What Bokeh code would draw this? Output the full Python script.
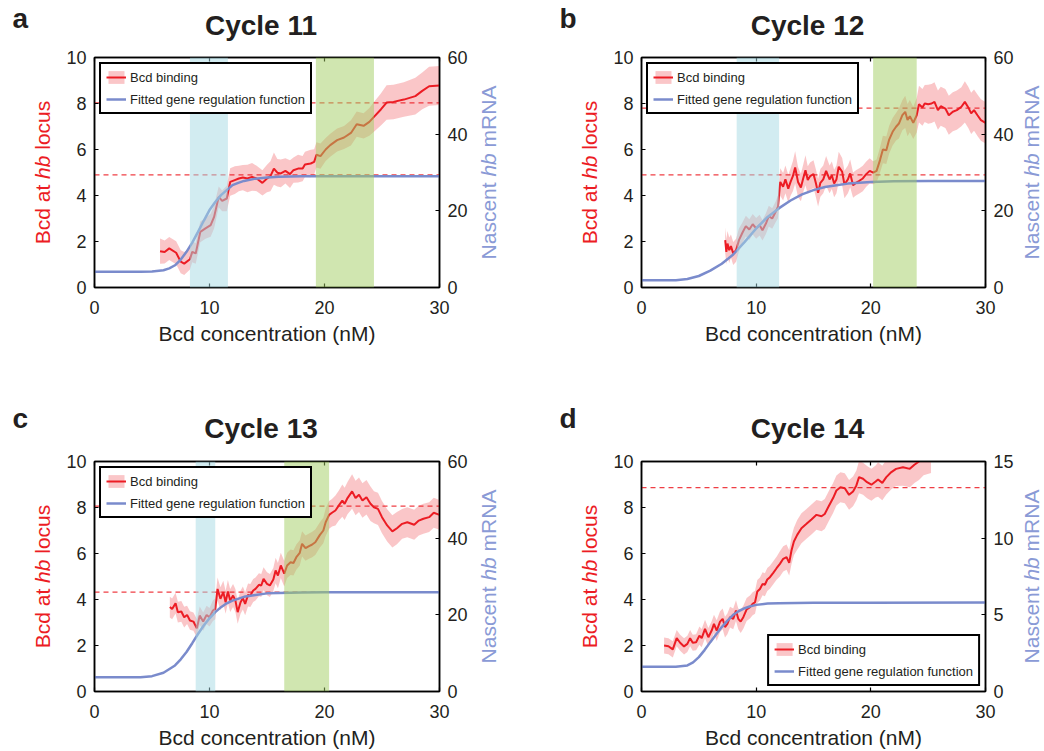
from bokeh.plotting import figure
from bokeh.models import (LinearAxis, Range1d, Span, BoxAnnotation, Legend, LegendItem,
                          FixedTicker, ColumnDataSource)
from bokeh.layouts import row, column
from bokeh.core.properties import value
from bokeh.embed import file_html
from bokeh.resources import INLINE
import math

# ---------------- data ----------------
# Panel a (Cycle 11)
xa = [5.7, 6.1, 6.5, 7.1, 7.5, 7.8, 8.3, 8.5, 8.8, 9.2, 9.65, 10.1, 10.4, 10.8, 11.1, 11.5, 11.8, 12.2, 12.55, 12.9,
      13.3, 13.7, 14.1, 14.6, 15.0, 15.3, 15.6, 15.9, 16.2, 16.6, 17.0, 17.3, 17.7, 18.1, 18.3, 18.8, 19.1, 19.3, 19.65, 20.1,
      20.5, 21.1, 21.7, 22.3, 22.8, 23.4, 23.9, 24.3, 24.9, 25.4, 26.0, 26.9, 27.9, 28.5, 29.1, 30.0]
ya = [1.58, 1.54, 1.70, 1.51, 1.12, 1.04, 1.23, 1.55, 1.48, 2.42, 2.57, 2.71, 3.07, 3.94, 3.77, 3.87, 4.59, 4.67, 4.74, 4.78,
      4.74, 4.81, 4.74, 4.55, 4.74, 4.84, 5.17, 4.99, 4.96, 5.07, 4.93, 5.10, 5.17, 5.17, 5.35, 5.39, 5.46, 5.77, 5.71, 6.00,
      6.19, 6.41, 6.52, 6.72, 7.10, 7.03, 7.20, 7.42, 7.74, 8.04, 8.07, 8.17, 8.32, 8.55, 8.75, 8.78]
ea = [0.55, 0.5, 0.5, 0.5, 0.5, 0.5, 0.45, 0.45, 0.45, 0.45, 0.45, 0.5, 0.5, 0.45, 0.45, 0.55,
      0.6, 0.6, 0.55, 0.55, 0.6, 0.6, 0.55, 0.55, 0.6, 0.65, 0.7, 0.6, 0.6, 0.55, 0.6, 0.55, 0.6, 0.55, 0.55, 0.6, 0.55,
      0.55, 0.55, 0.5, 0.5, 0.5, 0.5, 0.55, 0.55, 0.55, 0.6, 0.65, 0.7,
      0.75, 0.75, 0.75, 0.8, 0.8, 0.85, 0.85]
fxa = [0, 1, 2, 3, 4, 5, 6, 6.5, 7, 7.5, 8, 8.5, 9, 9.5, 10, 10.5, 11, 11.5, 12, 12.5, 13, 14, 15, 16, 18, 20, 25, 30]
fya = [4.1, 4.1, 4.1, 4.1, 4.1, 4.2, 4.5, 5.0, 5.8, 7.3, 9.3, 11.7, 14.5, 17.4, 20.2, 22.3, 24.1, 25.4, 26.7, 27.3,
       27.8, 28.4, 28.7, 28.9, 29.0, 29.0, 29.0, 29.0]
thr_a = [4.9, 8.03]
cyan_a = [8.3, 11.6]
green_a = [19.25, 24.3]

# Panel b (Cycle 12)
xb = [7.3, 7.4, 7.5, 7.65, 7.8, 8.0, 8.25, 8.5, 8.8, 9.1, 9.4, 9.7, 10.0, 10.3, 10.55, 10.85, 11.1, 11.4, 11.7, 11.9,
      12.1, 12.35, 12.55, 12.8, 13.0, 13.2, 13.4, 13.65, 13.9, 14.1, 14.3, 14.5, 14.7, 15.0, 15.2, 15.4, 15.6, 15.85, 16.1, 16.4,
      16.6, 16.8, 17.0, 17.2, 17.5, 17.7, 18.0, 18.2, 18.45, 18.7, 19.0, 19.3, 19.6, 19.9, 20.2, 20.5, 20.8, 21.05, 21.35, 21.6,
      21.9, 22.2, 22.45, 22.75, 23.0, 23.2, 23.4, 23.7, 24.0, 24.2, 24.5, 24.7, 25.0, 25.3, 25.55, 25.85, 26.1, 26.5, 26.8, 27.15,
      27.5, 27.9, 28.2, 28.5, 28.75, 29.0, 29.3, 29.6, 30.0]
yb = [2.06, 1.55, 1.91, 1.62, 1.80, 1.48, 1.62, 2.06, 2.38, 2.67, 2.52, 2.75, 2.57, 2.71, 2.49, 2.78, 3.10, 3.00, 3.29, 3.51,
      4.59, 4.38, 4.70, 4.30, 4.59, 4.84, 5.22, 4.59, 4.35, 4.74, 5.10, 4.67, 4.84, 4.93, 4.55, 4.12, 4.55, 4.70, 5.07, 4.70,
      4.88, 4.52, 4.70, 5.25, 5.03, 4.48, 4.70, 4.96, 4.45, 4.55, 4.64, 4.74, 4.93, 5.07, 4.99, 5.07, 5.54, 6.00, 5.97, 6.43,
      6.77, 6.99, 7.13, 7.49, 7.64, 7.28, 7.45, 7.16, 7.49, 7.97, 7.83, 8.00, 7.97, 8.00, 8.07, 7.71, 7.88, 7.78, 7.49, 7.64,
      7.71, 7.86, 8.07, 7.83, 7.57, 7.71, 7.49, 7.28, 7.16]
eb = [0.55, 0.55, 0.55, 0.55, 0.5, 0.5, 0.5, 0.5, 0.45, 0.45, 0.45, 0.45, 0.45, 0.45, 0.45, 0.45, 0.45, 0.45, 0.45, 0.5,
      0.6, 0.6, 0.6, 0.6, 0.6, 0.65, 0.7, 0.65, 0.6, 0.6, 0.65, 0.6, 0.6, 0.6, 0.6, 0.6, 0.6, 0.6, 0.65, 0.6,
      0.6, 0.6, 0.6, 0.65, 0.6, 0.6, 0.6, 0.6, 0.55, 0.55, 0.55, 0.55, 0.55, 0.55, 0.5, 0.5, 0.55, 0.6, 0.6, 0.6,
      0.6, 0.6, 0.65, 0.65, 0.7, 0.7, 0.7, 0.7, 0.75, 0.8, 0.8, 0.8, 0.85, 0.85, 0.85, 0.85, 0.85, 0.85, 0.85, 0.85,
      0.85, 0.85, 0.9, 0.9, 0.9, 0.9, 0.9, 0.9, 0.9]
fxb = [0, 1, 2, 3, 4, 5, 6, 7, 8, 9, 10, 11, 12, 13, 14, 15, 16, 17, 18, 19, 20, 22, 25, 30]
fyb = [1.9, 1.9, 1.9, 1.9, 2.2, 3.0, 4.4, 6.2, 8.6, 11.9, 15.4, 18.4, 20.7, 22.7, 24.3, 25.4, 26.2, 26.7, 27.1, 27.3,
       27.5, 27.7, 27.8, 27.8]
thr_b = [4.9, 7.8]
cyan_b = [8.3, 12.0]
green_b = [20.2, 24.0]

# Panel c (Cycle 13)
xc = [6.55, 6.75, 7.05, 7.25, 7.55, 7.8, 8.05, 8.3, 8.6, 8.9, 9.15, 9.45, 9.75, 10.0, 10.3, 10.5, 10.7, 10.95, 11.2, 11.4,
      11.6, 11.8, 12.05, 12.25, 12.45, 12.7, 12.9, 13.1, 13.35, 13.55, 13.8, 14.0, 14.3, 14.5, 14.7, 15.0, 15.25, 15.55, 15.75, 15.95,
      16.2, 16.5, 16.75, 17.05, 17.3, 17.55, 17.85, 18.05, 18.35, 18.65, 18.9, 19.2, 19.6, 19.9, 20.1, 20.4, 20.65, 20.95, 21.25, 21.55,
      21.75, 22.0, 22.4, 22.7, 23.0, 23.3, 23.65, 24.0, 24.3, 24.65, 25.0, 25.45, 25.9, 26.3, 26.75, 27.2, 27.8, 28.2, 28.6, 29.1,
      29.5, 30.0]
yc = [3.67, 3.59, 3.84, 3.45, 3.48, 3.23, 3.33, 3.09, 3.04, 2.75, 3.30, 3.04, 3.33, 3.23, 3.52, 3.59, 4.46, 4.03, 4.32, 3.88,
      4.35, 3.96, 4.17, 3.96, 3.45, 3.88, 4.06, 3.81, 4.20, 4.17, 4.39, 4.46, 4.64, 4.61, 4.90, 4.68, 4.61, 4.87, 5.26, 5.04,
      5.48, 5.12, 5.48, 5.62, 5.59, 5.84, 6.03, 6.42, 6.23, 6.32, 6.38, 6.49, 6.81, 7.00, 7.36, 7.68, 7.77, 7.87, 8.09, 8.30,
      8.16, 8.41, 8.70, 8.41, 8.55, 8.30, 8.45, 8.16, 8.01, 7.94, 7.58, 7.22, 6.96, 7.10, 7.29, 7.36, 7.25, 7.43, 7.51, 7.58,
      7.77, 7.68]
ec = [0.45, 0.45, 0.45, 0.45, 0.45, 0.45, 0.4, 0.4, 0.4, 0.4, 0.4, 0.4, 0.4, 0.4, 0.45, 0.45, 0.5, 0.5, 0.5, 0.5,
      0.5, 0.5, 0.5, 0.5, 0.5, 0.5, 0.5, 0.5, 0.5, 0.5, 0.5, 0.5, 0.5, 0.5, 0.5, 0.5, 0.5, 0.5, 0.55, 0.55,
      0.55, 0.55, 0.55, 0.55, 0.55, 0.55, 0.55, 0.55, 0.55, 0.55, 0.55, 0.55, 0.55, 0.55, 0.6, 0.6, 0.6, 0.65, 0.65, 0.7,
      0.7, 0.7, 0.75, 0.75, 0.75, 0.75, 0.75, 0.75, 0.7, 0.7, 0.7, 0.7, 0.7, 0.7, 0.65, 0.65, 0.65, 0.65, 0.65, 0.65,
      0.65, 0.65]
fxc = [0, 1, 2, 3, 4, 5, 6, 7, 7.5, 8, 8.5, 9, 9.5, 10, 10.5, 11, 11.5, 12, 13, 14, 15, 16, 18, 20, 25, 30]
fyc = [3.7, 3.7, 3.7, 3.7, 3.7, 4.0, 4.9, 6.8, 8.4, 10.3, 12.6, 15.0, 17.2, 19.1, 20.7, 22.0, 23.0, 23.7, 24.7, 25.2,
       25.6, 25.7, 25.8, 25.9, 25.9, 25.9]
thr_c = [4.32, 8.06]
cyan_c = [8.8, 10.5]
green_c = [16.5, 20.4]

# Panel d (Cycle 14)
xd = [1.97, 2.35, 2.73, 3.07, 3.37, 3.71, 4.0, 4.24, 4.47, 4.76, 5.05, 5.25, 5.54, 5.83, 6.12, 6.32, 6.56, 6.85, 7.08, 7.28,
      7.49, 7.72, 8.0, 8.24, 8.44, 8.65, 8.88, 9.17, 9.46, 9.69, 9.9, 10.1, 10.33, 10.56, 10.76, 10.97, 11.2, 11.49, 11.78, 12.07,
      12.36, 12.65, 12.88, 13.08, 13.29, 13.58, 13.95, 14.39, 14.82, 15.26, 15.7, 15.98, 16.36, 16.71, 17.0, 17.35, 17.73, 18.1, 18.45, 18.74,
      18.97, 19.32, 19.67, 20.05, 20.42, 20.63, 21.0, 21.35, 21.79, 22.2, 22.8, 23.4, 23.8, 24.2, 24.6, 25.25]
yd = [2.00, 1.97, 1.83, 2.32, 2.12, 1.96, 2.07, 2.32, 2.12, 2.14, 2.43, 2.32, 2.72, 2.36, 2.65, 2.94, 2.65, 3.04, 3.16, 2.80,
      2.94, 3.23, 3.16, 3.52, 3.16, 3.04, 3.23, 3.57, 3.67, 3.81, 3.88, 4.35, 4.46, 4.68, 4.64, 4.87, 4.97, 5.16, 5.36, 5.55,
      5.77, 5.84, 5.59, 6.13, 6.52, 6.81, 7.10, 7.29, 7.48, 7.68, 7.62, 7.72, 8.09, 8.41, 8.74, 8.88, 8.84, 8.55, 8.70, 8.96,
      9.32, 9.25, 9.10, 8.99, 9.13, 9.22, 9.07, 9.32, 9.54, 9.68, 9.75, 9.68, 9.86, 10.0, 10.25, 10.45]
ed = [0.35, 0.35, 0.35, 0.35, 0.35, 0.35, 0.35, 0.35, 0.35, 0.35, 0.4, 0.4, 0.4, 0.4, 0.4, 0.4, 0.45, 0.45, 0.45, 0.45,
      0.45, 0.45, 0.45, 0.45, 0.45, 0.5, 0.5, 0.5, 0.5, 0.5, 0.5, 0.5, 0.5, 0.5, 0.5, 0.5, 0.5, 0.5, 0.5, 0.55,
      0.55, 0.55, 0.55, 0.6, 0.6, 0.65, 0.65, 0.65, 0.65, 0.65, 0.65, 0.65, 0.65, 0.65, 0.65, 0.65, 0.65, 0.65, 0.65, 0.65,
      0.7, 0.7, 0.7, 0.7, 0.7, 0.75, 0.75, 0.75, 0.75, 0.75, 0.8, 0.8, 0.8, 0.8, 0.85, 0.95]
fxd = [0, 1, 2, 3, 4, 4.5, 5, 5.5, 6, 6.5, 7, 7.5, 8, 8.5, 9, 9.5, 10, 11, 12, 15, 20, 30]
fyd = [1.61, 1.61, 1.61, 1.61, 1.70, 1.90, 2.24, 2.70, 3.22, 3.72, 4.20, 4.62, 5.00, 5.25, 5.43, 5.56, 5.65, 5.74,
       5.76, 5.78, 5.79, 5.80]
thr_d = [8.86]

x_ticks = [0, 10, 20, 30]
left_ticks = [0, 2, 4, 6, 8, 10]
right_ticks_abc = [0, 20, 40, 60]
right_ticks_d = [0, 5, 10, 15]

# ---------------- style ----------------
FONT = "Liberation Sans"
RED = "#ec1c24"
BLUE = "#7a8bcc"
BLUE_TXT = "#8a9ad6"
CYAN = "#a5d9e3"
GREEN = "#a1cd61"
INK = "#231f20"
FS = 21           # axis-title font size (px)
MID = 0.3465      # middle of the text line above the baseline, in em (Liberation Sans)

# Liberation Sans (Arial metrics) advance widths per 1000 em, to place mixed-style title pieces
W = {"B": 667, "c": 500, "d": 556, " ": 278, "a": 556, "t": 278, "h": 556, "b": 556, "l": 222, "o": 556,
     "u": 556, "s": 500, "N": 722, "e": 556, "n": 556, "m": 833, "R": 722, "A": 667}


def tw(s, size=FS):
    return sum(W[ch] for ch in s) * size / 1000.0


def style_axis(ax, ticks, standoff):
    ax.ticker = FixedTicker(ticks=ticks)
    ax.axis_line_color = "black"
    ax.axis_line_width = 1.5
    ax.major_tick_in = 4
    ax.major_tick_out = 0
    ax.major_tick_line_color = "black"
    ax.major_tick_line_width = 1.2
    ax.minor_tick_line_color = None
    ax.major_label_text_font = FONT
    ax.major_label_text_font_size = "18px"
    ax.major_label_text_color = INK
    ax.major_label_standoff = standoff


def text_strip(w, h, items, bt=0, bb=0):
    """A blank figure used only to hold text. Its frame spans the full width and the rows
    between bt and h-bb (the same borders as the neighbouring plot, so the frames line up).
    items = (x, y_from_figure_top, text, size, style, color, align, angle); anchors are line middles."""
    fh = h - bt - bb
    s = figure(width=w, height=h, x_range=Range1d(0, w), y_range=Range1d(0, fh),
               min_border_left=0, min_border_right=0, min_border_top=bt, min_border_bottom=bb,
               output_backend="svg", toolbar_location=None, x_axis_location=None, y_axis_location=None)
    s.outline_line_color = None
    s.grid.visible = False
    s.background_fill_color = "white"
    s.border_fill_color = "white"
    for (x, y, t, size, style, color, align, angle) in items:
        s.text(x=[x], y=[h - bb - y], text=[t], text_font=value(FONT), text_font_size=f"{size}px",
               text_font_style=style, text_color=color, text_align=align, text_baseline="middle",
               angle=angle)
    return s


def rotated_title(pieces, base_x, mid_y, color):
    """pieces = [(text, style), ...] read bottom-to-top, centred on mid_y; base_x = text baseline."""
    full = " ".join(t for t, _ in pieces)
    start = mid_y + tw(full) / 2          # bottom end of the whole title (y measured from top)
    cx = base_x - MID * FS                # middle of the text line
    items, used = [], ""
    for t, style in pieces:
        c = start - tw(used) - tw(t) / 2
        items.append((cx, c, t, FS, style, color, "center", math.pi / 2))
        used += t + " "
    return items


def make_panel(letter, title, xr, yr, er, fx, fy, thr, cyan, green, rmax, rticks, legend_loc,
               Ls, Fw, Rs, H, BL, BR, BT, BB, letter_x, TOP, title_base, right_off):
    FW = Fw - BL - BR
    FH = H - BT - BB
    p = figure(width=Fw, height=H, x_range=Range1d(0, 30), y_range=Range1d(0, 10),
               output_backend="svg", toolbar_location=None,
               x_axis_location=None, y_axis_location=None,
               min_border_left=BL, min_border_right=BR, min_border_top=BT, min_border_bottom=BB)
    p.extra_y_ranges = {"right": Range1d(0, rmax)}
    p.grid.visible = False
    p.outline_line_color = "black"
    p.outline_line_width = 1.5
    p.background_fill_color = "white"
    p.border_fill_color = "white"

    bx = LinearAxis(axis_label="Bcd concentration (nM)")
    style_axis(bx, x_ticks, 13)
    bx.axis_label_text_font = FONT
    bx.axis_label_text_font_size = f"{FS}px"
    bx.axis_label_text_font_style = "normal"
    bx.axis_label_text_color = INK
    bx.axis_label_standoff = 5
    p.add_layout(bx, "below")
    tx = LinearAxis()
    style_axis(tx, x_ticks, 0)
    tx.major_label_text_font_size = "1px"
    tx.major_label_overrides = {t: "" for t in x_ticks}
    p.add_layout(tx, "above")
    ly = LinearAxis(); style_axis(ly, left_ticks, 8); p.add_layout(ly, "left")
    ry = LinearAxis(y_range_name="right"); style_axis(ry, rticks, 8); p.add_layout(ry, "right")

    for t in thr:
        p.add_layout(Span(location=t, dimension="width", line_color=RED, line_alpha=0.85,
                          line_dash="5 4", line_width=1.3, level="underlay"))

    src = ColumnDataSource(dict(x=xr, y=yr,
                                lo=[v - e for v, e in zip(yr, er)],
                                hi=[v + e for v, e in zip(yr, er)]))
    band = p.varea(x="x", y1="lo", y2="hi", source=src, fill_color=RED, fill_alpha=0.25)
    line = p.line("x", "y", source=src, line_color=RED, line_width=2)
    fit = p.line(fx, fy, y_range_name="right", line_color=BLUE, line_width=2.5)

    if cyan:
        p.add_layout(BoxAnnotation(left=cyan[0], right=cyan[1], fill_color=CYAN, fill_alpha=0.5,
                                   line_color=None, line_alpha=0))
    if green:
        p.add_layout(BoxAnnotation(left=green[0], right=green[1], fill_color=GREEN, fill_alpha=0.5,
                                   line_color=None, line_alpha=0))

    legend = Legend(items=[LegendItem(label="Bcd binding", renderers=[band, line]),
                           LegendItem(label="Fitted gene regulation function", renderers=[fit])],
                    location=legend_loc, margin=5, padding=5, spacing=6, label_height=16,
                    glyph_height=16, glyph_width=20, label_standoff=4,
                    label_text_font=FONT, label_text_font_size="13px", label_text_color=INK,
                    border_line_color="black", border_line_width=2, border_line_alpha=1.0,
                    background_fill_color="white", background_fill_alpha=1.0)
    p.add_layout(legend)

    # --- text strips around the panel ---
    total_w = Ls + Fw + Rs
    top = text_strip(total_w, TOP, [
        (letter_x, 28 - MID * 28, letter, 28, "bold", INK, "left", 0),
        (Ls + BL + FW / 2 - 6, title_base - MID * 28, title, 28, "bold", INK, "center", 0),
    ])
    mid = BT + FH / 2
    left = text_strip(Ls, H, rotated_title([("Bcd at", "normal"), ("hb", "italic"), ("locus", "normal")],
                                           Ls + BL - 45, mid, RED), bt=BT, bb=BB)
    right = text_strip(Rs, H, rotated_title([("Nascent", "normal"), ("hb", "italic"), ("mRNA", "normal")],
                                            right_off - BR, mid, BLUE_TXT), bt=BT, bb=BB)
    return column(top, row(left, p, right))


pa = make_panel("a", "Cycle 11", xa, ya, ea, fxa, fya, thr_a, cyan_a, green_a, 60, right_ticks_abc,
                "top_left", 54, 421, 47, 355, 40, 36, 12, 113, 12, 45, 35, 56)
pb = make_panel("b", "Cycle 12", xb, yb, eb, fxb, fyb, thr_b, cyan_b, green_b, 60, right_ticks_abc,
                "top_left", 78, 418, 26, 355, 41, 33, 12, 113, 37, 45, 35, 53)
pc = make_panel("c", "Cycle 13", xc, yc, ec, fxc, fyc, thr_c, cyan_c, green_c, 60, right_ticks_abc,
                "top_left", 54, 421, 47, 303, 40, 36, 13, 60, 12, 48, 38, 56)
pd = make_panel("d", "Cycle 14", xd, yd, ed, fxd, fyd, thr_d, None, None, 15, right_ticks_d,
                "bottom_right", 78, 418, 26, 303, 41, 33, 13, 60, 37, 48, 38, 53)

page = column(row(pa, pb), row(pc, pd))
open("out.html", "w").write(file_html(page, INLINE))
